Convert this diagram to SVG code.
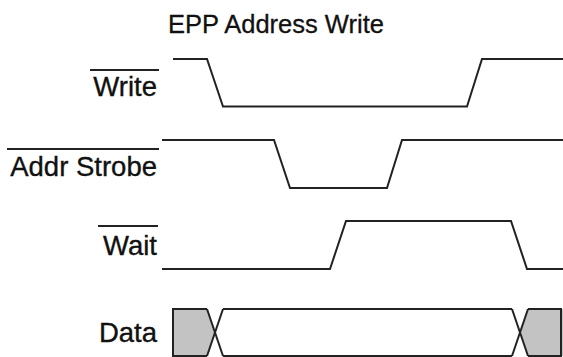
<svg xmlns="http://www.w3.org/2000/svg" width="563" height="357" viewBox="0 0 563 357">
  <style>
    .lbl { font-family: "Liberation Sans", Arial, sans-serif; font-size: 27.5px; fill: #111; stroke: #111; stroke-width: 0.35; }
    .title { font-family: "Liberation Sans", Arial, sans-serif; font-size: 25.5px; fill: #111; stroke: #111; stroke-width: 0.3; }
    .sig { fill: none; stroke: #222; stroke-width: 2; stroke-linejoin: miter; }
    .bar { stroke: #222; stroke-width: 2; }
    .bus { fill: #c3c3c3; stroke: none; }
  </style>
  <rect width="563" height="357" fill="#fff"/>

  <text class="title" x="168" y="33">EPP Address Write</text>

  <!-- signal names (active-low ones carry an overbar) -->
  <g id="label-write">
    <line class="bar" x1="90" y1="70" x2="159" y2="70"/>
    <text class="lbl" x="157" y="96" text-anchor="end">Write</text>
  </g>
  <g id="label-addr-strobe">
    <line class="bar" x1="7" y1="149" x2="159" y2="149"/>
    <text class="lbl" x="157" y="176" text-anchor="end">Addr Strobe</text>
  </g>
  <g id="label-wait">
    <line class="bar" x1="98" y1="226" x2="158" y2="226"/>
    <text class="lbl" x="157" y="254.5" text-anchor="end">Wait</text>
  </g>
  <g id="label-data">
    <text class="lbl" x="157" y="342" text-anchor="end">Data</text>
  </g>

  <!-- waveforms -->
  <g id="waveforms">
    <polyline id="wave-write" class="sig" points="173,59 207,59 223,106.5 467,106.5 482,59 563,59"/>
    <polyline id="wave-addr-strobe" class="sig" points="162,140 274,140 290,188 387,188 402,140 563,140"/>
    <polyline id="wave-wait" class="sig" points="162,269 330,269 346,221 511,221 527,269 563,269"/>

    <g id="wave-data">
      <polygon class="bus" points="173,309 207,309 215,332.5 207,356 173,356"/>
      <polygon class="bus" points="563,309 528,309 520,332.5 528,356 563,356"/>
      <polyline class="sig" points="207,309 173,309 173,356 207,356"/>
      <line class="sig" x1="207" y1="309" x2="223" y2="356"/>
      <line class="sig" x1="223" y1="309" x2="207" y2="356"/>
      <polyline class="sig" points="223,309 512,309"/>
      <polyline class="sig" points="223,356 512,356"/>
      <line class="sig" x1="512" y1="309" x2="528" y2="356"/>
      <line class="sig" x1="528" y1="309" x2="512" y2="356"/>
      <polyline class="sig" points="528,309 561,309 561,356 528,356"/>
    </g>
  </g>
</svg>
